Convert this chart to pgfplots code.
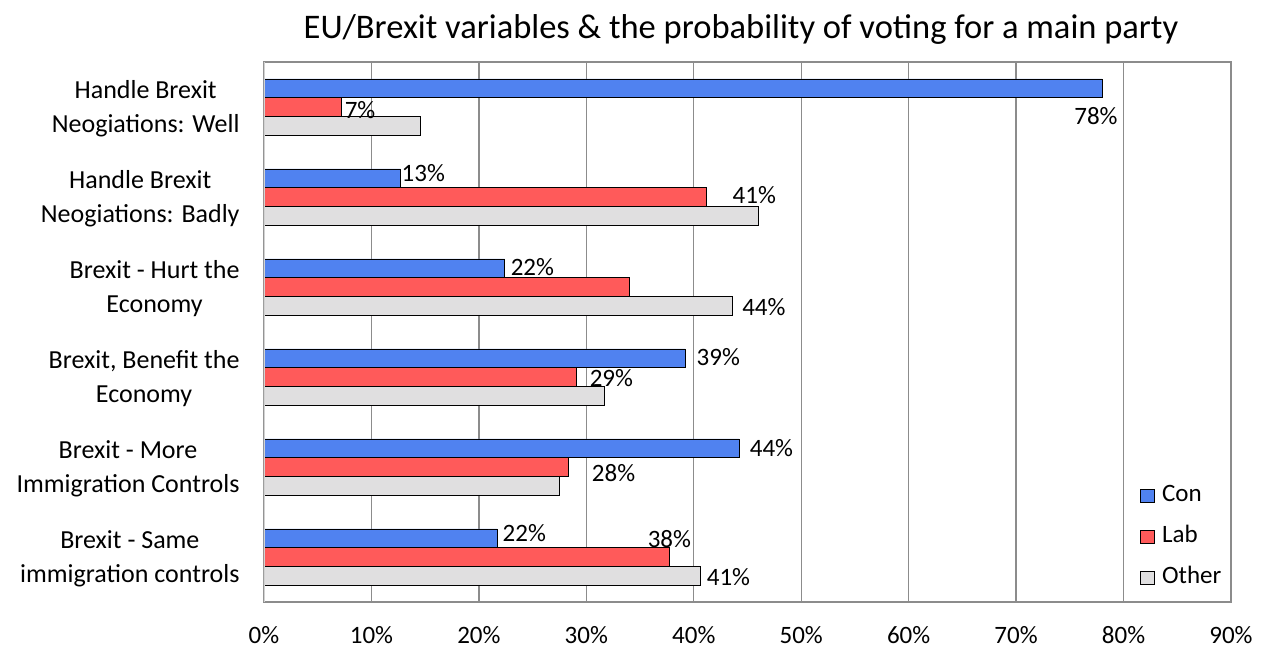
\documentclass[border=0pt]{standalone}
\usepackage{fontspec}
\setmainfont{Carlito}
\usepackage{pgfplots}
\pgfplotsset{compat=1.18}

\definecolor{conblue}{RGB}{80,130,240}
\definecolor{labred}{RGB}{255,90,90}
\definecolor{othergray}{RGB}{224,223,224}
\definecolor{gridgray}{RGB}{140,140,140}
\definecolor{edgegray}{RGB}{210,210,210}

\newcommand{\lblfont}{\fontsize{25}{34}\selectfont}
\newcommand{\catfont}{\fontsize{26}{34}\selectfont}

\begin{document}
\begin{tikzpicture}
\useasboundingbox (-264pt,-46pt) rectangle (1003pt,602pt);
\begin{axis}[
  at={(0pt,0pt)}, anchor=south west,
  scale only axis, width=967pt, height=540pt,
  xmin=0, xmax=90, ymin=-0.5, ymax=5.5, y dir=reverse,
  xbar, bar width=0.208,
  xtick={0,10,...,90},
  xticklabels={0\%,10\%,20\%,30\%,40\%,50\%,60\%,70\%,80\%,90\%},
  ytick={0,1,2,3,4,5},
  yticklabels={{Handle Brexit\\Neogiations: Well},
               {Handle Brexit\\Neogiations: Badly},
               {Brexit - Hurt the\\Economy},
               {Brexit, Benefit the\\Economy},
               {Brexit - More\\Immigration Controls},
               {Brexit - Same\\immigration controls}},
  tick style={draw=none},
  xmajorgrids,
  grid style={draw=gridgray, line width=1.3pt},
  axis line style={draw=gridgray, line width=1.3pt},
  xticklabel style={font=\lblfont, anchor=north, inner sep=0pt, yshift=-24pt},
  yticklabel style={font=\catfont, align=center, anchor=east, inner sep=0pt, xshift=-20pt, yshift=-2pt},
  legend image code/.code={%
    \draw[#1, line width=0.8pt] (0pt,-6.5pt) rectangle (14pt,6.5pt);
    \path (21pt,0pt);},
  legend style={at={(0.906,0.218)}, anchor=north west, draw=none, fill=none,
    font=\lblfont, row sep=19pt, inner sep=0pt,
    nodes={inner sep=0pt, text height=17pt, text depth=5pt}},
  legend cell align=left,
]
% Conservative
\addplot[fill=conblue, draw=black, line width=0.8pt, bar shift=-0.208]
  coordinates {(78.0,0) (12.7,1) (22.4,2) (39.2,3) (44.2,4) (21.7,5)};
% Labour
\addplot[fill=labred, draw=black, line width=0.8pt, bar shift=0]
  coordinates {(7.2,0) (41.2,1) (34.0,2) (29.1,3) (28.3,4) (37.7,5)};
% Other parties
\addplot[fill=othergray, draw=black, line width=0.8pt, bar shift=0.208]
  coordinates {(14.6,0) (46.0,1) (43.6,2) (31.7,3) (27.5,4) (40.6,5)};
\legend{Con,Lab,Other}

% value labels
\begin{scope}[every node/.style={font=\lblfont, inner sep=0pt, anchor=west}]
\node at (axis cs:75.4,0.10) {78\%};
\node at (axis cs:7.5,0.03) {7\%};
\node at (axis cs:12.8,0.733) {13\%};
\node at (axis cs:43.6,0.978) {41\%};
\node at (axis cs:22.95,1.778) {22\%};
\node at (axis cs:44.5,2.222) {44\%};
\node at (axis cs:40.25,2.778) {39\%};
\node at (axis cs:30.3,3.011) {29\%};
\node at (axis cs:45.2,3.789) {44\%};
\node at (axis cs:30.5,4.067) {28\%};
\node at (axis cs:22.2,4.733) {22\%};
\node at (axis cs:35.7,4.80) {38\%};
\node at (axis cs:41.2,5.222) {41\%};
\end{scope}
% lighter left edge of the plot frame
\draw[edgegray, line width=1.6pt] (rel axis cs:0,0) -- (rel axis cs:0,1);
\end{axis}
\node[font=\fontsize{34.5}{40}\selectfont, inner sep=0pt, anchor=base] at (477pt,563pt)
  {EU/Brexit variables \& the probability of voting for a main party};
\end{tikzpicture}
\end{document}
